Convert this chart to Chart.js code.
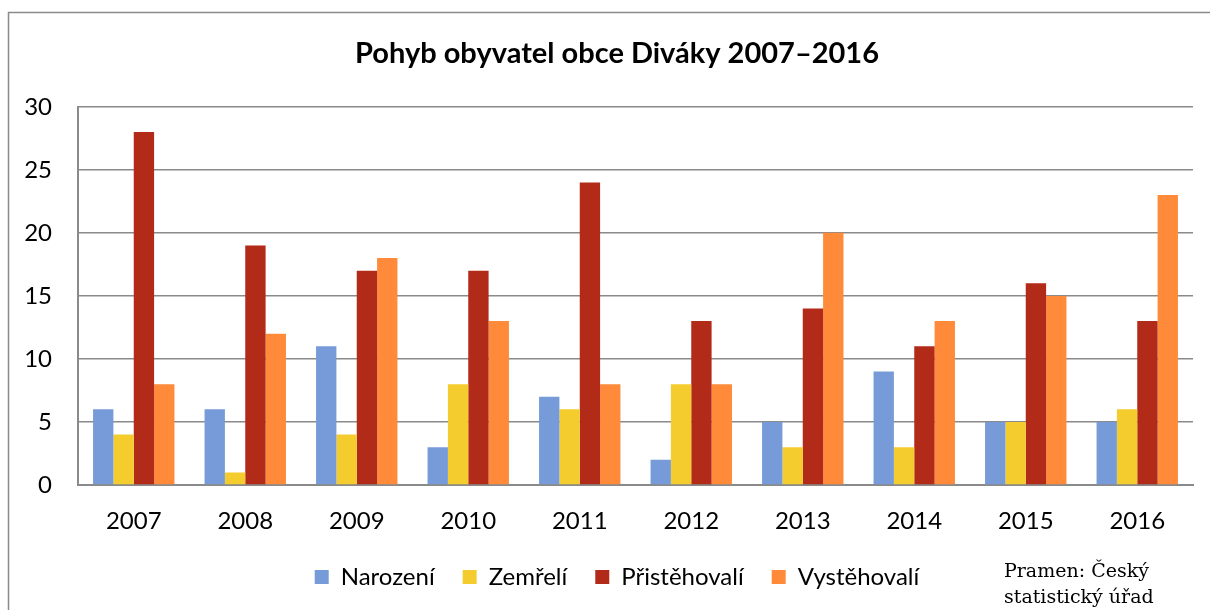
<!DOCTYPE html>
<html>
<head>
<meta charset="utf-8">
<script src="https://cdn.jsdelivr.net/npm/chart.js@4"></script>
<style>
  html, body { margin: 0; padding: 0; background: #fff; overflow: hidden; }
  #wrap { position: relative; width: 1210px; height: 610px; }
  #source { position: absolute; left: 1004px; top: 557px; font-family: "DejaVu Serif", "Liberation Serif", serif;
    font-size: 19px; line-height: 26px; color: #000; }
</style>
</head>
<body>
<div id="wrap">
  <canvas id="chart" width="1210" height="610"></canvas>
  <div id="source">Pramen: Český<br>statistický úřad</div>
</div>
<script>
const years = ["2007", "2008", "2009", "2010", "2011", "2012", "2013", "2014", "2015", "2016"];
const narozeni = [6, 6, 11, 3, 7, 2, 5, 9, 5, 5];
const zemreli = [4, 1, 4, 8, 6, 8, 3, 3, 5, 6];
const pristehovali = [28, 19, 17, 17, 24, 13, 14, 11, 16, 13];
const vystehovali = [8, 12, 18, 13, 8, 8, 20, 13, 15, 23];

const fontFamily = "Lato, 'Open Sans', sans-serif";

// outer frame of the chart box
const framePlugin = {
  id: "frame",
  beforeDraw(chart) {
    const ctx = chart.ctx;
    ctx.save();
    ctx.strokeStyle = "#8a8a8a";
    ctx.lineWidth = 1.5;
    ctx.beginPath();
    ctx.moveTo(8.5, 700);
    ctx.lineTo(8.5, 12.5);
    ctx.lineTo(1300, 12.5);
    ctx.stroke();
    ctx.restore();
  }
};

function makeSet(label, data, color) {
  return {
    label: label,
    data: data,
    backgroundColor: color,
    borderWidth: 0,
    barPercentage: 1,
    categoryPercentage: 0.73
  };
}

const ctx = document.getElementById("chart").getContext("2d");
const chart = new Chart(ctx, {
  type: "bar",
  data: {
    labels: years,
    datasets: [
      makeSet("Narození", narozeni, "#779bd8"),
      makeSet("Zemřelí", zemreli, "#f4cc2e"),
      makeSet("Přistěhovalí", pristehovali, "#b22a18"),
      makeSet("Vystěhovalí", vystehovali, "#fe8a3a")
    ]
  },
  options: {
    responsive: false,
    animation: false,
    layout: { padding: { left: 24, right: 0, top: 0, bottom: 11 } },
    plugins: {
      tooltip: { enabled: false },
      title: {
        display: true,
        text: "Pohyb obyvatel obce Diváky 2007–2016",
        color: "#000",
        font: { family: fontFamily, size: 29, weight: "bold" },
        padding: { top: 36, bottom: 36 }
      },
      legend: {
        position: "bottom",
        labels: {
          color: "#000",
          font: { family: fontFamily, size: 24 },
          boxWidth: 14,
          boxHeight: 14,
          padding: 28
        }
      }
    },
    scales: {
      x: {
        grid: { display: false, drawTicks: false },
        border: { display: true, color: "#8a8a8a", width: 2 },
        ticks: { color: "#000", font: { family: fontFamily, size: 24 }, padding: 22 },
        afterFit(scale) { scale.height = 52; }
      },
      y: {
        min: 0,
        max: 30,
        ticks: { stepSize: 5, color: "#000", font: { family: fontFamily, size: 24 }, padding: 26 },
        grid: { color: "#8a8a8a", lineWidth: 1.5, drawTicks: false },
        border: { display: true, color: "#8a8a8a", width: 2 },
        afterFit(scale) { scale.width = 54; }
      },
      // empty right axis, only keeps the plot off the right edge
      yr: {
        position: "right",
        grid: { display: false, drawTicks: false },
        border: { display: false },
        ticks: { display: false },
        afterFit(scale) { scale.width = 17; }
      }
    }
  },
  plugins: [framePlugin]
});
</script>
</body>
</html>
